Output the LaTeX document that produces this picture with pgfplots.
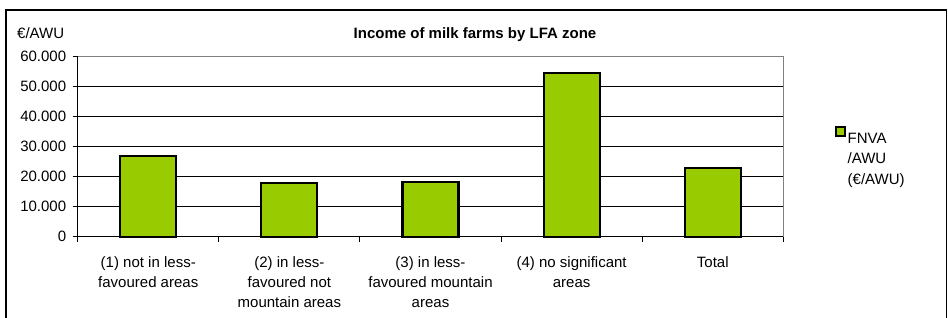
\documentclass[border=0pt]{standalone}
\usepackage{pgfplots}
\pgfplotsset{compat=1.18}
\usepackage{fontspec}
\setmainfont{Liberation Sans}
\definecolor{barg}{HTML}{99CC00}
\definecolor{bord}{HTML}{808080}
\begin{document}
\begin{tikzpicture}[x=1pt,y=1pt]
\useasboundingbox (-77.7,-81.3) rectangle (870.3,236.7);
\draw[line width=1.2pt] (-71.7,-90) -- (-71.7,226.7) -- (868.8,226.7) -- (868.8,-90);
\begin{axis}[
  at={(0,0)}, anchor=origin,
  scale only axis, width=705.6pt, height=180pt,
  ybar, bar width=56pt,
  xmin=0, xmax=5, ymin=0, ymax=60000,
  xtick={0.5,1.5,2.5,3.5,4.5},
  xticklabels={{(1) not in less-\\favoured areas},{(2) in less-\\favoured not\\mountain areas},{(3) in less-\\favoured mountain\\areas},{(4) no significant\\areas},{Total}},
  minor xtick={0,1,2,3,4,5},
  major x tick style={draw=none},
  minor x tick style={black, line width=1pt},
  ytick={0,10000,20000,30000,40000,50000,60000},
  scaled y ticks=false,
  /pgf/number format/1000 sep={.},
  /pgf/number format/assume math mode=true,
  tick align=outside,
  major tick length=5pt, minor tick length=5pt,
  y tick style={black, line width=1pt},
  xtick pos=bottom, ytick pos=left,
  ymajorgrids, major grid style={black, line width=0.9pt},
  axis line style={black, line width=1.1pt},
  tick label style={font=\fontsize{15}{20}\selectfont},
  xticklabel style={align=center, yshift=-11pt},
  yticklabel style={xshift=-3pt},
  legend style={at={(757.3pt,111pt)}, anchor=north west, draw=none, fill=none,
    font=\fontsize{15}{20.5}\selectfont,
    legend cell align=left, inner sep=0pt, nodes={inner sep=1.5pt}},
  legend image code/.code={\draw[fill=barg, draw=black, line width=2pt] (0.5pt,0.8pt) rectangle (9.5pt,9.8pt);},
  clip=false,
]
\addplot[fill=barg, draw=black, line width=2.2pt] coordinates {(0.5,27000) (1.5,18000) (2.5,18200) (3.5,54500) (4.5,23000)};
\addlegendentry{\begin{tabular}[t]{@{}l@{}}FNVA\\/AWU\\(€/AWU)\end{tabular}}
\draw[bord, line width=1.4pt] (rel axis cs:0,1) -- (rel axis cs:1,1) -- (rel axis cs:1,0);
\end{axis}
\node[anchor=center, font=\fontsize{15}{16}\selectfont\bfseries] at (397.3,201.7) {Income of milk farms by LFA zone};
\node[anchor=west, inner sep=0pt, font=\fontsize{15}{16}\selectfont] at (-60.7,203.7) {€/AWU};
\end{tikzpicture}
\end{document}
